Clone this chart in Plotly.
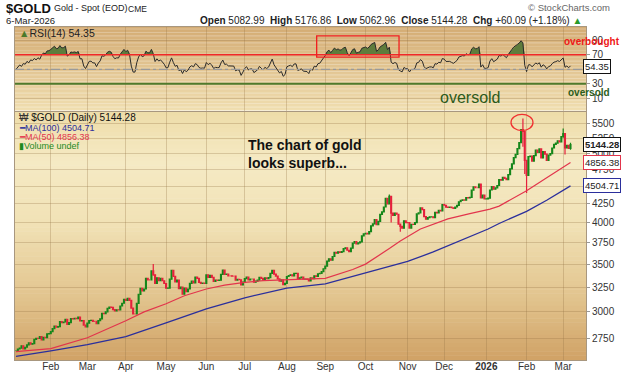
import numpy as np
import pandas as pd
import plotly.graph_objects as go

# ---------------- data ----------------
c_2025_01 = [2648, 2662, 2670, 2690, 2662, 2677, 2697, 2715, 2703, 2708, 2745, 2755, 2754, 2770, 2740, 2764, 2760, 2795, 2798]
c_2025_02 = [2815, 2842, 2866, 2856, 2861, 2908, 2898, 2904, 2928, 2882, 2898, 2935, 2933, 2939, 2936, 2950, 2915, 2916, 2875, 2858]
c_2025_03 = [2893, 2918, 2920, 2910, 2910, 2889, 2916, 2934, 2987, 2984, 3001, 3035, 3048, 3044, 3023, 3011, 3020, 3019, 3058, 3085, 3124]
c_2025_04 = [3113, 3134, 3114, 3037, 2982, 2982, 3083, 3175, 3237, 3211, 3230, 3343, 3327, 3327, 3424, 3381, 3288, 3349, 3319, 3344, 3317, 3288]
c_2025_05 = [3238, 3240, 3334, 3431, 3365, 3306, 3325, 3234, 3249, 3177, 3240, 3202, 3230, 3290, 3314, 3295, 3357, 3342, 3300, 3288, 3292, 3289]
c_2025_06 = [3380, 3353, 3375, 3353, 3310, 3325, 3322, 3323, 3386, 3432, 3385, 3389, 3370, 3370, 3368, 3368, 3323, 3332, 3328, 3274, 3303]
c_2025_07 = [3339, 3357, 3326, 3336, 3336, 3301, 3313, 3324, 3355, 3343, 3325, 3348, 3339, 3350, 3397, 3431, 3388, 3368, 3337, 3314, 3326, 3275, 3289]
c_2025_08 = [3363, 3374, 3381, 3369, 3397, 3398, 3341, 3348, 3356, 3335, 3336, 3332, 3315, 3348, 3339, 3371, 3365, 3393, 3397, 3416, 3448]
c_2025_09 = [3477, 3533, 3560, 3545, 3587, 3635, 3625, 3641, 3634, 3643, 3679, 3690, 3660, 3643, 3685, 3746, 3764, 3736, 3749, 3760, 3833, 3858]
c_2025_10 = [3865, 3857, 3887, 3960, 3985, 4040, 3975, 4017, 4110, 4142, 4208, 4326, 4250, 4356, 4125, 4095, 4126, 4111, 3981, 3952, 3930, 4025, 4002]
c_2025_11 = [4001, 3932, 3980, 3977, 4000, 4115, 4128, 4195, 4172, 4080, 4046, 4066, 4077, 4078, 4065, 4136, 4130, 4164, 4157, 4239]
c_2025_12 = [4232, 4206, 4204, 4208, 4198, 4189, 4208, 4229, 4280, 4300, 4305, 4302, 4339, 4332, 4340, 4444, 4490, 4480, 4480, 4532, 4332, 4372, 4319]
c_2026_01 = [4320, 4330, 4445, 4495, 4456, 4477, 4510, 4598, 4590, 4630, 4615, 4595, 4670, 4760, 4835, 4935, 4985, 5080, 5180, 5400, 5370, 4890]
c_2026_02 = [4660, 4950, 4960, 4880, 4965, 5055, 5020, 5075, 4930, 5030, 4990, 4890, 4975, 5000, 5090, 5150, 5170, 5210, 5190, 5280]
c_2026_03 = [5330, 5090, 5135, 5084.19, 5144.28]

last_open, last_high, last_low, last_close = 5082.99, 5176.86, 5062.96, 5144.28
chg, chg_pct = 60.09, 1.18
ma50_last, ma100_last, rsi_last = 4856.38, 4504.71, 54.35

wick_dates = ['2025-04-22', '2025-10-20', '2025-10-21', '2025-10-28', '2026-01-29', '2026-01-30', '2026-02-02', '2026-03-02', '2026-03-03']
wick_high = [3500, 4381, 4360, 3990, 5598, 5380, 4900, 5420, 5330]
wick_low = [3370, 4250, 4004, 3886, 5110, 4680, 4402, 5260, 4985]

ma50_dates = ['2025-01-07', '2025-02-03', '2025-03-03', '2025-04-01', '2025-04-15', '2025-05-01', '2025-05-15',
              '2025-06-02', '2025-06-16', '2025-07-01', '2025-07-15', '2025-08-01', '2025-09-01', '2025-09-22',
              '2025-10-01', '2025-10-20', '2025-10-28', '2025-11-12', '2025-12-03', '2025-12-19', '2026-01-05',
              '2026-01-12', '2026-02-02', '2026-02-17', '2026-03-06']
ma50_vals = [2640, 2665, 2760, 2915, 3000, 3080, 3160, 3230, 3270, 3300, 3318, 3330, 3342, 3440,
             3500, 3680, 3770, 3920, 4050, 4120, 4180, 4220, 4435, 4625, 4856.38]

ma100_dates = ['2025-01-07', '2025-02-03', '2025-03-03', '2025-04-01', '2025-05-01', '2025-06-02', '2025-07-01',
               '2025-08-01', '2025-09-01', '2025-10-01', '2025-11-03', '2025-11-21', '2025-12-17', '2026-01-02',
               '2026-01-12', '2026-02-02', '2026-02-17', '2026-03-06']
ma100_vals = [2600, 2645, 2700, 2770, 2895, 3030, 3140, 3240, 3285, 3400, 3530, 3640, 3800, 3920,
              3990, 4150, 4300, 4504.71]

rsi_head = [50, 53, 56, 54, 58, 57, 61, 59, 63, 62, 65, 63, 66, 64]

tick_dates = ['2025-02-03', '2025-03-03', '2025-04-01', '2025-05-01', '2025-06-02', '2025-07-01', '2025-08-01',
              '2025-09-01', '2025-10-01', '2025-11-03', '2025-12-01', '2026-01-01', '2026-02-02', '2026-03-02']
tick_labels = ['Feb', 'Mar', 'Apr', 'May', 'Jun', 'Jul', 'Aug', 'Sep', 'Oct', 'Nov', 'Dec', '<b>2026</b>', 'Feb', 'Mar']
price_ticks = [2750, 3000, 3250, 3500, 3750, 4000, 4250, 4500, 4750, 5000, 5250, 5500]
price_tick_text = ['2750', '3000', '3250', '3500', '3750', '4000', '4250', '', '4750', '5000', '5250', '5500']
rsi_ticks = [10, 30, 50, 70, 90]
rsi_tick_text = ['10', '30', '', '70', '90']

# ---------------- derived ----------------
close = (c_2025_01 + c_2025_02 + c_2025_03 + c_2025_04 + c_2025_05 + c_2025_06 + c_2025_07 +
         c_2025_08 + c_2025_09 + c_2025_10 + c_2025_11 + c_2025_12 + c_2026_01 + c_2026_02 + c_2026_03)
N = len(close)
dates = pd.bdate_range(end='2026-03-06', periods=N)
pos = {d.strftime('%Y-%m-%d'): i for i, d in enumerate(dates)}
idx = np.arange(N)

c = np.array(close, dtype=float)
o = np.concatenate([[c[0]], c[:-1]])
o[-1] = last_open
h = np.maximum(o, c)
lo = np.minimum(o, c)
h[-1], lo[-1] = last_high, last_low
for d, wh, wl in zip(wick_dates, wick_high, wick_low):
    i = pos[d]
    h[i] = max(h[i], wh)
    lo[i] = min(lo[i], wl)

# RSI(14), Wilder
dlt = np.diff(c)
gain = np.clip(dlt, 0, None)
loss = np.clip(-dlt, 0, None)
rsi = np.full(N, np.nan)
rsi[:14] = rsi_head
ag, al = gain[:14].mean(), loss[:14].mean()
rsi[14] = 100 - 100 / (1 + ag / al)
for i in range(15, N):
    ag = (ag * 13 + gain[i - 1]) / 14
    al = (al * 13 + loss[i - 1]) / 14
    rsi[i] = 100 - 100 / (1 + ag / al)
rsi_top = np.maximum(rsi, 70)

# ---------------- layout geometry ----------------
W, H = 624, 375
L, R, T, B = 15, 38, 27, 15
PW, PH = W - L - R, H - T - B
def px(x):
    return (x - L) / PW
def py(y):
    return (H - B - y) / PH

FONT = 'Liberation Sans, Arial, sans-serif'
GRID = 'rgba(150,115,70,0.30)'
EDGE = '#a8977f'

fig = go.Figure()

# RSI panel
fig.add_trace(go.Scatter(x=idx, y=np.full(N, 70.0), mode='lines', line=dict(width=0, color='rgba(0,0,0,0)'),
                         xaxis='x2', yaxis='y2', hoverinfo='skip', showlegend=False))
fig.add_trace(go.Scatter(x=idx, y=rsi_top, mode='lines', line=dict(width=0, color='rgba(0,0,0,0)'),
                         fill='tonexty', fillcolor='#5e7c3c', xaxis='x2', yaxis='y2', hoverinfo='skip', showlegend=False))
fig.add_trace(go.Scatter(x=idx, y=rsi, mode='lines', line=dict(width=1, color='#2a2a2a'),
                         xaxis='x2', yaxis='y2', showlegend=False))

# Main panel
fig.add_trace(go.Scatter(x=[pos[d] for d in ma100_dates], y=ma100_vals, mode='lines',
                         line=dict(color='#2b2f9c', width=1.3), showlegend=False))
fig.add_trace(go.Scatter(x=[pos[d] for d in ma50_dates], y=ma50_vals, mode='lines',
                         line=dict(color='#e2354c', width=1.2), showlegend=False))
fig.add_trace(go.Candlestick(x=idx, open=o, high=h, low=lo, close=c, whiskerwidth=0,
                             increasing=dict(line=dict(color='#15861a', width=1.2), fillcolor='#15861a'),
                             decreasing=dict(line=dict(color='#e5203c', width=1.2), fillcolor='#e5203c'),
                             showlegend=False))

# ---------------- background gradients ----------------
def lerp_color(stops, t):
    for (t0, c0), (t1, c1) in zip(stops[:-1], stops[1:]):
        if t <= t1:
            f = (t - t0) / (t1 - t0)
            return 'rgb(%d,%d,%d)' % tuple(round(a + (b - a) * f) for a, b in zip(c0, c1))
    return 'rgb(%d,%d,%d)' % stops[-1][1]

shapes = []
def gradient(xref, yref, stops, n=60):
    for k in range(n):
        t = (k + 0.5) / n
        shapes.append(dict(type='rect', xref=xref, yref=yref, x0=0, x1=1,
                           y0=1 - (k + 1) / n, y1=1 - k / n + 0.002,
                           fillcolor=lerp_color(stops, t), line=dict(width=0), layer='below'))

gradient('x2 domain', 'y2 domain', [(0, (212, 172, 116)), (1, (240, 222, 176))])
gradient('x domain', 'y domain', [(0, (238, 220, 168)), (0.2, (245, 234, 196)), (0.45, (241, 226, 182)),
                                  (0.75, (226, 196, 142)), (1, (208, 162, 102))])

# RSI reference lines
shapes.append(dict(type='line', xref='x2 domain', yref='y2', x0=0, x1=1, y0=70, y1=70,
                   line=dict(color='#f02828', width=1.5)))
shapes.append(dict(type='line', xref='x2 domain', yref='y2', x0=0, x1=1, y0=50, y1=50,
                   line=dict(color='#9a9a9a', width=1.2, dash='dashdot')))
shapes.append(dict(type='line', xref='x2 domain', yref='y2', x0=0, x1=1, y0=30, y1=30,
                   line=dict(color='#4f7a2c', width=2)))
# red box on RSI
shapes.append(dict(type='rect', xref='x2', yref='y2', x0=pos['2025-08-26'] - 0.7, x1=pos['2025-10-27'] + 0.3,
                   y0=66.8, y1=96.2, line=dict(color='#f02020', width=1.3)))
# red circle around spike
xc = pos['2026-01-29'] - 0.5
shapes.append(dict(type='circle', xref='x', yref='y domain', x0=xc - 6, x1=xc + 6,
                   y0=0.925, y1=0.99, line=dict(color='#f03030', width=1.3)))

fig.update_layout(shapes=shapes)

# ---------------- annotations ----------------
ann = []
def text(x, y, s, size=10, color='#222', xanchor='left', yanchor='middle', bold=False, **kw):
    if bold:
        s = '<b>' + s + '</b>'
    ann.append(dict(x=px(x), y=py(y), xref='paper', yref='paper', text=s, showarrow=False,
                    xanchor=xanchor, yanchor=yanchor, font=dict(size=size, color=color, family=FONT), **kw))

text(4, 8, '$GOLD', size=13, color='#111', bold=True)
text(52, 8.5, 'Gold - Spot (EOD)', size=9, color='#222')
text(126, 9, 'CME', size=8.5, color='#222')
text(4, 20.5, '6-Mar-2026', size=9.5, color='#222')
text(612, 7, '© StockCharts.com', size=9.5, color='#666', xanchor='right')
hdr = ('<b>Open</b> %.2f  <b>High</b> %.2f  <b>Low</b> %.2f  <b>Close</b> %.2f  <b>Chg</b> +%.2f (+%.2f%%) '
       '<span style="color:#2a9a2a">▲</span>') % (last_open, last_high, last_low, last_close, chg, chg_pct)
text(584, 20.5, hdr, size=10, color='#222', xanchor='right')

text(17, 32.5, '<span style="color:#4a7a2a">▲</span>RSI(14) %.2f' % rsi_last, size=10.5, color='#222')
text(592, 42, 'overbought', size=10, color='#f01818', xanchor='center', bold=True)
text(589, 93, 'oversold', size=10, color='#2c5e1c', xanchor='center', bold=True)
text(470, 97, 'oversold', size=16, color='#2c5a1a', xanchor='center')

text(17, 117.5, '<span style="color:#333">₩</span> $GOLD (Daily) %.2f' % last_close, size=10, color='#111')
text(17, 127.5, '━MA(100) %.2f' % ma100_last, size=9, color='#2b2f9c')
text(17, 136.5, '━MA(50) %.2f' % ma50_last, size=9, color='#e2354c')
text(17, 145.5, '▮Volume undef', size=9, color='#1e8a1e')

text(246, 154, 'The chart of gold<br>looks superb...', size=14, color='#111', bold=True, align='left')

def box(val, y_val, border, yref, bold=False, logv=False):
    s = '%.2f' % val
    if bold:
        s = '<b>' + s + '</b>'
    ann.append(dict(x=1, xref='paper', xanchor='left', xshift=-3, y=np.log10(y_val) if logv else y_val, yref=yref,
                    yanchor='middle', text=s, showarrow=False, bgcolor='white', bordercolor=border,
                    borderwidth=1, borderpad=1, font=dict(size=9.5, color='#222', family=FONT)))

box(last_close, last_close, '#111', 'y', bold=True, logv=True)
box(ma50_last, ma50_last, '#e2354c', 'y', logv=True)
box(ma100_last, ma100_last, '#2b2f9c', 'y', logv=True)
box(rsi_last, rsi_last, '#111', 'y2')

fig.update_layout(annotations=ann)

# ---------------- axes ----------------
tickpos = [pos[d] for d in tick_dates]
xr = [-0.55, -0.55 + PW / 1.83]
axis_common = dict(showline=True, mirror=True, linecolor=EDGE, linewidth=1, zeroline=False, automargin=False)
fig.update_layout(
    template='none',
    width=W, height=H,
    margin=dict(l=L, r=R, t=T, b=B, pad=0, autoexpand=False),
    paper_bgcolor='white', plot_bgcolor='rgba(0,0,0,0)',
    showlegend=False, hovermode=False,
    font=dict(family=FONT, size=10, color='#333'),
    xaxis=dict(domain=[0, 1], anchor='y', range=xr, tickvals=tickpos, ticktext=tick_labels,
               showgrid=True, gridcolor=GRID, gridwidth=1, ticks='', ticklabelstandoff=-3,
               tickfont=dict(size=10, color='#333'), rangeslider=dict(visible=False), **axis_common),
    yaxis=dict(domain=[0, 0.745], anchor='x', side='right', type='log',
               range=[np.log10(2569), np.log10(5718)], tickvals=price_ticks,
               ticktext=price_tick_text, showgrid=True, gridcolor=GRID, gridwidth=1,
               ticks='outside', ticklen=3, tickcolor='#999', tickfont=dict(size=10, color='#333'), **axis_common),
    xaxis2=dict(domain=[0, 1], anchor='y2', matches='x', range=xr, tickvals=tickpos, showticklabels=False,
                showgrid=True, gridcolor=GRID, gridwidth=1, ticks='', **axis_common),
    yaxis2=dict(domain=[0.749, 1], anchor='x2', side='right', range=[-7.2, 108.6], tickvals=rsi_ticks,
                ticktext=rsi_tick_text, showgrid=True, gridcolor=GRID, gridwidth=1,
                ticks='outside', ticklen=3, tickcolor='#999', tickfont=dict(size=10, color='#333'), **axis_common),
)

fig.write_html('out.html', config={'displayModeBar': False},
               post_script="document.body.style.margin='0';document.body.style.overflow='hidden';")
